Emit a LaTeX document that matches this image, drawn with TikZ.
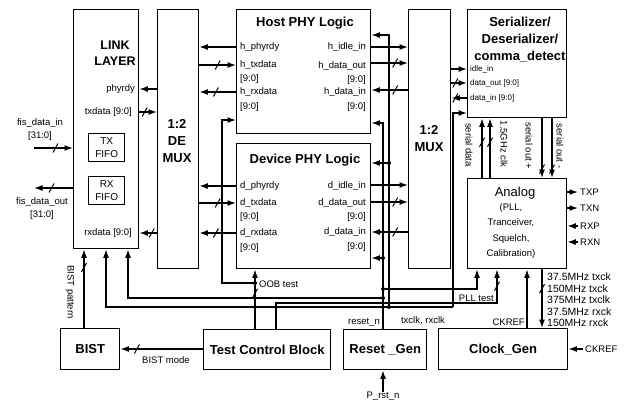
\documentclass[tikz,border=0pt]{standalone}
\usepackage{fontspec}
\setmainfont{Liberation Sans}
\usetikzlibrary{arrows.meta}
\tikzset{
  blk/.style={draw, line width=1.4pt, inner sep=0pt, anchor=north west},
  ttl/.style={font=\fontsize{13}{17}\selectfont\bfseries, align=center, inner sep=0pt},
  lbl/.style={font=\fontsize{9.5}{11}\selectfont, inner sep=0pt},
  sml/.style={font=\fontsize{8}{9}\selectfont, inner sep=0pt},
  wire/.style={line width=1.3pt},
  arr/.style={wire, -{Latex[length=8.5pt,width=6pt]}},
  jdot/.style={circle, fill, inner sep=0pt, minimum size=4pt},
  busmark/.pic={\draw[-, line width=1pt] (-2.5pt,-4.5pt) -- (2.5pt,4.5pt);}
}

\begin{document}
\begin{tikzpicture}[x=1pt, y=-1pt]
  \useasboundingbox (0,0) rectangle (633,405);

  % Main blocks
  \node[blk, minimum width=65pt, minimum height=239pt] (link) at (73,9) {};
  \node[blk, minimum width=41pt, minimum height=259pt] (demux) at (157,9) {};
  \node[blk, minimum width=134pt, minimum height=124pt] (host) at (236,9) {};
  \node[blk, minimum width=134pt, minimum height=125pt] (device) at (236,143) {};
  \node[blk, minimum width=42pt, minimum height=259pt] (mux) at (408,9) {};
  \node[blk, minimum width=99pt, minimum height=108pt] (serdes) at (467,9) {};
  \node[blk, minimum width=99pt, minimum height=90pt] (analog) at (467,178) {};
  \node[blk, minimum width=36pt, minimum height=28pt, align=center, font=\fontsize{10}{13}\selectfont] (txfifo) at (88,133) {TX\\FIFO};
  \node[blk, minimum width=36pt, minimum height=28pt, align=center, font=\fontsize{10}{13}\selectfont] (rxfifo) at (88,176) {RX\\FIFO};
  \node[blk, minimum width=59pt, minimum height=41pt, font=\fontsize{13}{15}\selectfont\bfseries] (bist) at (60,328) {BIST};
  \node[blk, minimum width=127pt, minimum height=40pt, font=\fontsize{13}{15}\selectfont\bfseries] (tcb) at (203,329) {Test Control Block};
  \node[blk, minimum width=83pt, minimum height=40pt, font=\fontsize{13}{15}\selectfont\bfseries] (rstgen) at (343,329) {Reset \_Gen};
  \node[blk, minimum width=129pt, minimum height=41pt, font=\fontsize{13}{15}\selectfont\bfseries] (clkgen) at (438,328) {Clock\_Gen};

  % Titles
  \node[ttl, font=\fontsize{12.5}{16}\selectfont\bfseries] (linkttl) at (115,53) {LINK\\LAYER};
  \node[ttl] (demuxttl) at (177,141) {1:2\\DE\\MUX};
  \node[ttl] (muxttl) at (429,139) {1:2\\MUX};
  \node[ttl] (hostttl) at (305,23) {Host PHY Logic};
  \node[ttl] (devttl) at (305,160) {Device PHY Logic};
  \node[ttl] (serdesttl) at (520,40) {Serializer/\\Deserializer/\\comma\_detect};
  \node[inner sep=0pt, font=\fontsize{13}{15}\selectfont] (anattl) at (515,193) {Analog};
  \node[inner sep=0pt, font=\fontsize{9.5}{15.5}\selectfont, align=center] (anatxt) at (511,231) {(PLL,\\Tranceiver,\\Squelch,\\Calibration)};

  % Link layer labels
  \node[lbl, anchor=east] (lphy) at (135,89) {phyrdy};
  \node[lbl, anchor=east] (ltx) at (132,112) {txdata [9:0]};
  \node[lbl, anchor=east] (lrx) at (132,233) {rxdata [9:0]};
  \node[lbl, align=center, font=\fontsize{9.5}{13}\selectfont] (fisinl) at (40,130) {fis\_data\_in\\{}[31:0]};
  \node[lbl, align=center, font=\fontsize{9.5}{13}\selectfont] (fisoutl) at (42,209) {fis\_data\_out\\{}[31:0]};

  % Host PHY labels
  \node[lbl, anchor=west] (hl1) at (240,47) {h\_phyrdy};
  \node[lbl, anchor=west] (hl2) at (240,65) {h\_txdata};
  \node[lbl, anchor=west] (hl3) at (240,79) {[9:0]};
  \node[lbl, anchor=west] (hl4) at (240,92) {h\_rxdata};
  \node[lbl, anchor=west] (hl5) at (240,107) {[9:0]};
  \node[lbl, anchor=east] (hr1) at (366,47) {h\_idle\_in};
  \node[lbl, anchor=east] (hr2) at (366,66) {h\_data\_out};
  \node[lbl, anchor=east] (hr3) at (366,80) {[9:0]};
  \node[lbl, anchor=east] (hr4) at (366,92) {h\_data\_in};
  \node[lbl, anchor=east] (hr5) at (366,107) {[9:0]};

  % Device PHY labels
  \node[lbl, anchor=west] (dl1) at (240,186) {d\_phyrdy};
  \node[lbl, anchor=west] (dl2) at (240,203) {d\_txdata};
  \node[lbl, anchor=west] (dl3) at (240,217) {[9:0]};
  \node[lbl, anchor=west] (dl4) at (240,233) {d\_rxdata};
  \node[lbl, anchor=west] (dl5) at (240,248) {[9:0]};
  \node[lbl, anchor=east] (dr1) at (366,186) {d\_idle\_in};
  \node[lbl, anchor=east] (dr2) at (366,203) {d\_data\_out};
  \node[lbl, anchor=east] (dr3) at (366,217) {[9:0]};
  \node[lbl, anchor=east] (dr4) at (366,232) {d\_data\_in};
  \node[lbl, anchor=east] (dr5) at (366,247) {[9:0]};

  % Serializer labels
  \node[sml, anchor=west] (sl1) at (470,69) {idle\_in};
  \node[sml, anchor=west] (sl2) at (470,83) {data\_out [9:0]};
  \node[sml, anchor=west] (sl3) at (470,98) {data\_in [9:0]};

  % fis data ports
  \coordinate (fisin) at (34,148);
  \coordinate (fisout) at (34,188);
  \draw[arr] (fisin) -- pic[pos=.55]{busmark} (link.west |- fisin);
  \draw[arr] (link.west |- fisout) -- pic[pos=.55]{busmark} (fisout);

  % Link <-> DEMUX
  \draw[arr] (demux.west |- 0,89) -- (link.east |- 0,89);
  \draw[arr] (link.east |- 0,112) -- pic[pos=.3]{busmark} (demux.west |- 0,112);
  \draw[arr] (demux.west |- 0,233) -- pic[pos=.3]{busmark} (link.east |- 0,233);

  % DEMUX <-> PHY logic
  \draw[arr] (host.west |- 0,47) -- (demux.east |- 0,47);
  \draw[arr] (demux.east |- 0,65) -- pic[pos=.5]{busmark} (host.west |- 0,65);
  \draw[arr] (host.west |- 0,92) -- pic[pos=.55]{busmark} (demux.east |- 0,92);
  \draw[arr] (device.west |- 0,186) -- (demux.east |- 0,186);
  \draw[arr] (demux.east |- 0,203) -- pic[pos=.5]{busmark} (device.west |- 0,203);
  \draw[arr] (device.west |- 0,233) -- pic[pos=.55]{busmark} (demux.east |- 0,233);

  % PHY logic <-> MUX
  \draw[arr] (host.east |- 0,47) -- (mux.west |- 0,47);
  \draw[arr] (host.east |- 0,63) -- pic[pos=.65]{busmark} (mux.west |- 0,63);
  \draw[arr] (mux.west |- 0,90) -- pic[pos=.35]{busmark} (host.east |- 0,90);
  \draw[arr] (device.east |- 0,185) -- (mux.west |- 0,185);
  \draw[arr] (device.east |- 0,202) -- pic[pos=.65]{busmark} (mux.west |- 0,202);
  \draw[arr] (mux.west |- 0,232) -- pic[pos=.35]{busmark} (device.east |- 0,232);

  % MUX <-> Serializer
  \draw[arr] (mux.east |- 0,69) -- (serdes.west |- 0,69);
  \draw[arr] (mux.east |- 0,83) -- pic[pos=.25]{busmark} (serdes.west |- 0,83);
  \draw[arr] (serdes.west |- 0,98) -- pic[pos=.75]{busmark} (mux.east |- 0,98);

  % Serializer <-> Analog
  \draw[arr] (482,0 |- analog.north) -- pic[pos=.6]{busmark} (482,0 |- serdes.south);
  \draw[arr] (490,0 |- analog.north) -- pic[pos=.6]{busmark} (490,0 |- serdes.south);
  \draw[arr] (542,0 |- serdes.south) -- pic[pos=.85]{busmark} (542,0 |- analog.north);
  \draw[arr] (552,0 |- serdes.south) -- pic[pos=.85]{busmark} (552,0 |- analog.north);
  \node[lbl, rotate=-90] (sdl) at (469,145) {serial data};
  \node[lbl, rotate=-90] (gclk) at (504,144) {1.5GHz clk};
  \node[lbl, rotate=-90] (sop) at (529,146) {serial out +};
  \node[lbl, rotate=-90] (som) at (560,146) {serial out -};

  % Analog ports
  \node[lbl, anchor=west] (txp) at (580,192) {TXP};
  \node[lbl, anchor=west] (txn) at (580,208) {TXN};
  \node[lbl, anchor=west] (rxp) at (580,226) {RXP};
  \node[lbl, anchor=west] (rxn) at (580,242) {RXN};
  \draw[arr, shorten >=2pt] (analog.east |- txp) -- (txp.west);
  \draw[arr, shorten >=2pt] (analog.east |- txn) -- (txn.west);
  \draw[arr, shorten <=2pt] (rxp.west) -- (analog.east |- rxp);
  \draw[arr, shorten <=2pt] (rxn.west) -- (analog.east |- rxn);

  % Clock_Gen <-> Analog
  \draw[arr] (527,0 |- clkgen.north) -- (527,0 |- analog.south);
  \draw[arr] (542,0 |- analog.south) -- pic[pos=.33]{busmark} (542,0 |- clkgen.north);
  \node[lbl, anchor=east] (ckl) at (525,322) {CKREF};
  \node[lbl, anchor=west, align=left, font=\fontsize{10.5}{11.5}\selectfont] (clkout) at (547,300) {37.5MHz txck\\150MHz txck\\375MHz txclk\\37.5MHz rxck\\150MHz rxck};
  \node[lbl, anchor=west] (ckin) at (585,349) {CKREF};
  \draw[arr, shorten <=2pt] (ckin.west) -- (clkgen.east |- ckin);

  % reset distribution
  \node[lbl] (prst) at (383,396) {P\_rst\_n};
  \draw[arr] (prst.north) -- (prst.north |- rstgen.south);
  \draw[arr] (383,0 |- rstgen.north) -- (383,123) -- (host.east |- 0,123);
  \node[jdot] (r1) at (383,298) {};
  \node[jdot] (r2) at (383,289) {};
  \node[jdot] (r3) at (383,258) {};
  \draw[arr] (r1.center) -- (128,298) -- (128,0 |- link.south);
  \draw[arr] (r2.center) -- (477,289) -- (477,0 |- analog.south);
  \draw[arr] (r3.center) -- (device.east |- r3);
  \node[lbl, anchor=east] (rstl) at (380,322) {reset\_n};

  % clock distribution
  \coordinate (ck) at (453,307);
  \draw[arr] (ck) -- (453,113) -- (serdes.west |- 0,113);
  \draw[arr] (ck) -- (106,307) -- (106,0 |- link.south);
  \node[jdot] (c2) at (389,307) {};
  \node[jdot] (c3) at (389,163) {};
  \draw[arr] (c2.center) -- (389,35) -- (host.east |- 0,35);
  \draw[arr] (c3.center) -- (device.east |- c3);
  \node[lbl] (clkl) at (423,321) {txclk, rxclk};

  % test control
  \draw[arr] (255,0 |- tcb.north) -- pic[pos=.6]{busmark} (255,0 |- device.south);
  \node[jdot] (oob) at (255,283) {};
  \draw[arr] (oob.center) -- (222,283) -- (222,120) -- (host.west |- 0,120);
  \node[lbl, anchor=west] (oobl) at (259,284) {OOB test};
  \draw[arr] (276,0 |- tcb.north) -- (276,303) -- (497,303) -- pic[pos=.5]{busmark} (497,0 |- analog.south);
  \node[lbl, anchor=south east] (plll) at (494,301.5) {PLL test};
  \draw[arr] (tcb.west |- 0,349) -- pic[pos=.8]{busmark} (bist.east |- 0,349);
  \node[lbl] (bmode) at (166,360) {BIST mode};
  \draw[arr] (84,0 |- bist.north) -- pic[pos=.77]{busmark} (84,0 |- link.south);
  \node[lbl, rotate=-90] (bpat) at (70,292) {BIST pattern};
\end{tikzpicture}
\end{document}
